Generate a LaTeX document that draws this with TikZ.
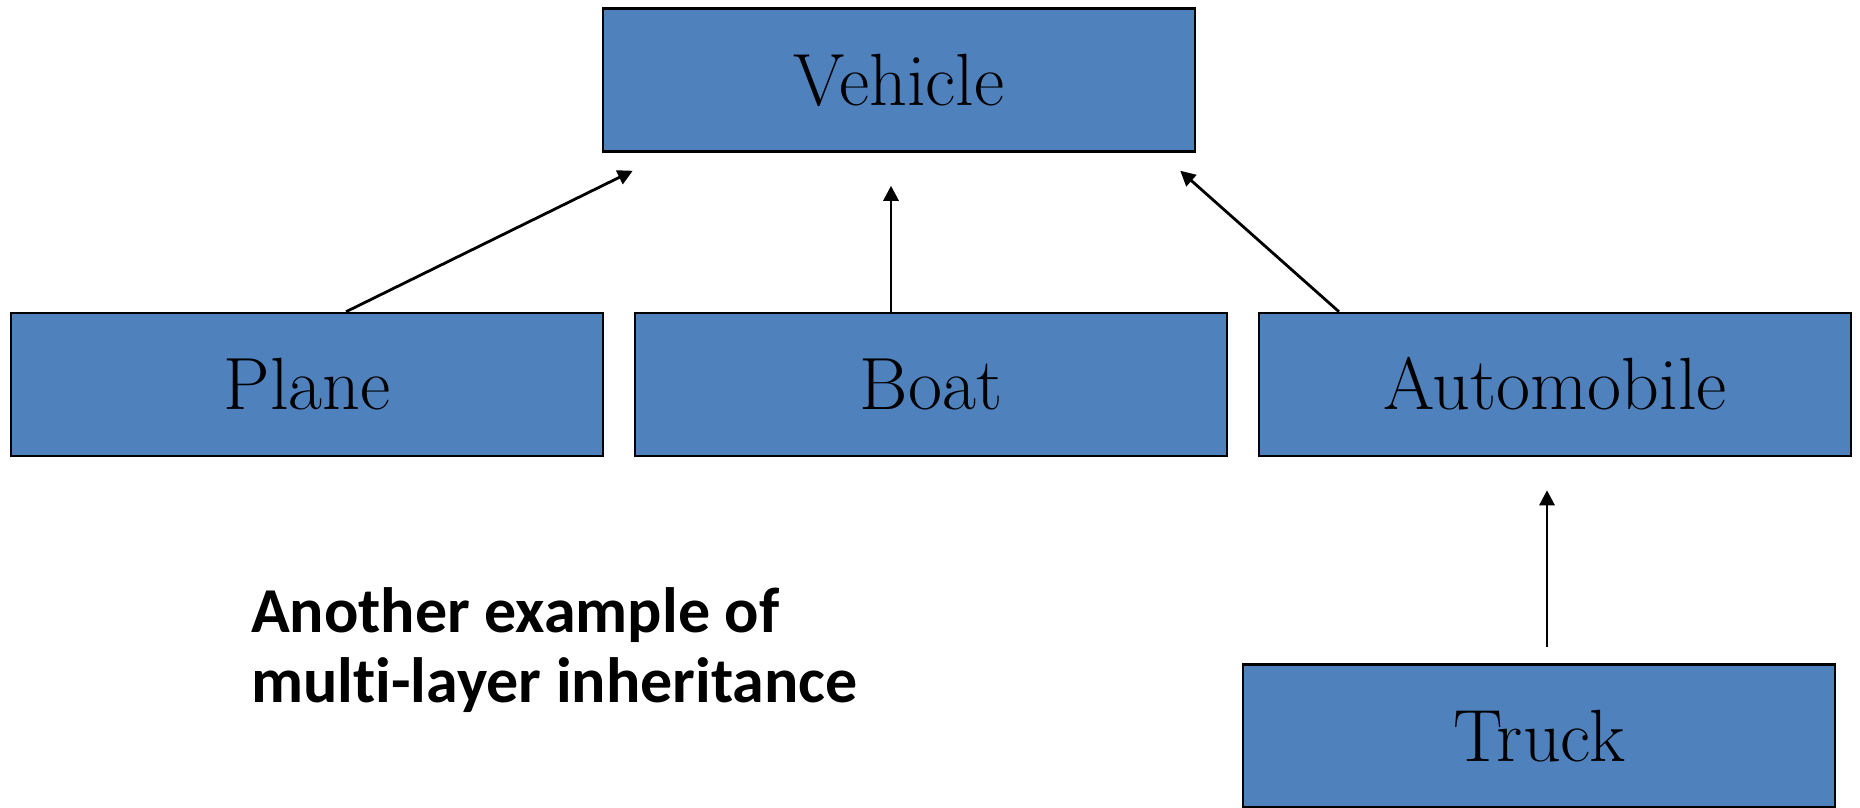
\documentclass[tikz,border=0pt]{standalone}
\usepackage{fontspec}
\newfontfamily\notefont{Carlito}[Ligatures=NoCommon]
\usetikzlibrary{arrows.meta}
\definecolor{boxblue}{HTML}{4F81BD}
\tikzset{
  classbox/.style={draw=black, line width=2.5pt, fill=boxblue, minimum width=592pt, minimum height=143pt,
    inner sep=0pt, font=\fontsize{74}{86}\selectfont, text height=50pt, text depth=0pt},
  inherit/.style={line width=2.8pt, -{Triangle[length=15pt,width=15pt]}}
}
\begin{document}
\begin{tikzpicture}[x=1pt,y=-1pt]
\useasboundingbox (0,0) rectangle (1860,807);
\node[classbox] (vehicle) at (899,80) {Vehicle};
\node[classbox] (plane) at (307,384.5) {Plane};
\node[classbox] (boat) at (931,384.5) {Boat};
\node[classbox] (auto) at (1555,384.5) {Automobile};
\node[classbox] (truck) at (1539,736) {Truck};
\coordinate (e1) at ([xshift=31pt,yshift=-18pt]vehicle.south west);
\coordinate (e2) at ([xshift=-8pt,yshift=-33pt]vehicle.south);
\coordinate (e3) at ([xshift=-16pt,yshift=-18pt]vehicle.south east);
\coordinate (e4) at ([xshift=-8pt,yshift=-33pt]auto.south);
\draw[inherit] ([xshift=39pt]plane.north) -- (e1);
\draw[inherit] ([xshift=-40pt]boat.north) -- (e2);
\draw[inherit] ([xshift=-216pt]auto.north) -- (e3);
\draw[inherit] ([xshift=8pt,yshift=16pt]truck.north) -- (e4);
\node[anchor=base west, align=left, inner sep=0pt, font=\notefont\bfseries\fontsize{64}{70}\selectfont] (note) at (251,702)
  {Another example of\\multi-layer inheritance};
\end{tikzpicture}
\end{document}
